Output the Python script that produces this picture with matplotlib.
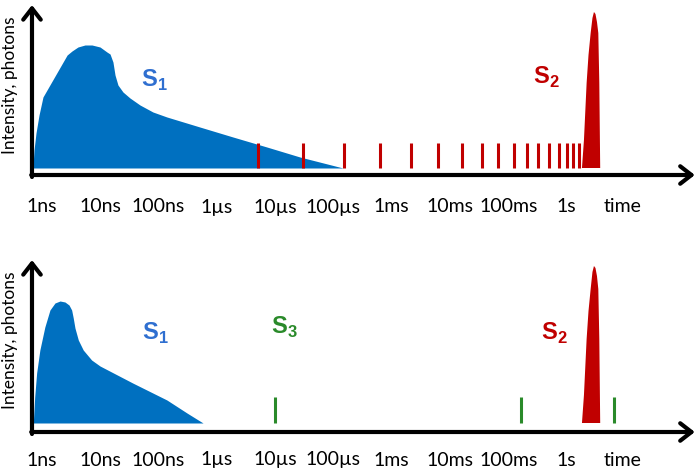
import matplotlib
matplotlib.use('Agg')
import matplotlib.pyplot as plt

plt.rcParams['font.family'] = ['Lato', 'DejaVu Sans']
plt.rcParams['mathtext.fontset'] = 'custom'
plt.rcParams['mathtext.bf'] = 'Liberation Sans:bold'
plt.rcParams['mathtext.rm'] = 'Liberation Sans'

BLUE = '#0070C0'
BLUE_TXT = '#2F6FD0'
RED = '#C00000'
GREEN = '#2A8A2A'

# time axis labels (seconds)
tick_times = [1e-9, 1e-8, 1e-7, 1e-6, 1e-5, 1e-4, 1e-3, 1e-2, 1e-1, 1.0]
tick_labels = ['1ns', '10ns', '100ns', '1µs', '10µs', '100µs', '1ms', '10ms', '100ms', '1s']

# top panel: S1 fluorescence decay (time in s, intensity in arb. units)
s1_top_t = [7.0e-10, 7.3e-10, 7.9e-10, 8.9e-10, 1.04e-9, 2.7e-9, 3.27e-9, 4.14e-9, 5.47e-9,
            7.2e-9, 9.9e-9, 1.3e-8, 1.47e-8, 1.65e-8, 1.79e-8, 2.01e-8, 2.45e-8, 3.23e-8,
            4.8e-8, 8.0e-8, 1.39e-7, 5.1e-7, 1.89e-6, 7.2e-6, 2.66e-5, 1.46e-4]
s1_top_i = [7, 25, 42, 60, 78, 120, 124, 128, 130,
            130, 128, 123, 121, 113, 100, 90, 83, 77,
            70, 63, 58, 48, 38, 28, 18, 7]

# top panel: red pulses
pulse_top_t = [5.07e-6, 3.0e-5, 1.5e-4, 6.3e-4, 2.1e-3, 6.2e-3, 0.016, 0.035, 0.066,
               0.125, 0.21, 0.32, 0.50, 0.74, 1.0, 1.28, 1.63]

# S2 peak (shared time samples)
s2_t = [1.83, 1.98, 2.20, 2.37, 2.58, 2.77, 2.94, 3.12, 3.31, 3.49, 3.63, 3.70, 3.76]
s2_top_i = [7, 35, 92, 120, 142, 157, 163, 161, 153, 142, 92, 45, 7]

# bottom panel: S1 decay
s1_bot_t = [7.1e-10, 7.5e-10, 8.1e-10, 9.2e-10, 1.12e-9, 1.37e-9, 1.67e-9, 2.04e-9, 2.48e-9,
            2.91e-9, 3.23e-9, 3.44e-9, 3.68e-9, 4.2e-9, 5.1e-9, 7.1e-9, 9.9e-9, 3.6e-8,
            1.39e-7, 3.07e-7, 5.8e-7]
s1_bot_i = [9, 35, 59, 82, 105, 122, 129, 131, 130,
            127, 122, 114, 104, 92, 82, 72, 66, 49,
            32, 19, 9]

# bottom panel: green S3 pulses and S2 peak
s3_t = [1.0e-5, 0.164, 6.5]
s2_bot_i = [9, 37, 93, 121, 143, 160, 166, 164, 156, 143, 93, 47, 9]

fig = plt.figure(figsize=(6.99, 4.71), dpi=100)
ax_top = fig.add_axes([0, 231 / 471, 1, 240 / 471])
ax_bot = fig.add_axes([0, 0, 1, 231 / 471])

t_min, t_max = 10 ** -9.72, 10 ** 2.27
y_axis_t = 6.74e-10
x_end_t = 158.0


def setup(ax, ylim, ytop, label_y, tick_y, axis_lo):
    ax.set_xscale('log')
    ax.set_xlim(t_min, t_max)
    ax.set_ylim(*ylim)
    ax.axis('off')
    arrow = dict(arrowstyle='->,head_length=0.45,head_width=0.35', lw=3,
                 color='black', mutation_scale=18, shrinkA=0, shrinkB=0)
    ax.annotate('', xy=(x_end_t, 0), xytext=(y_axis_t * 0.97, 0), arrowprops=arrow)
    ax.annotate('', xy=(y_axis_t, ytop), xytext=(y_axis_t, axis_lo), arrowprops=arrow)
    for t, lab in zip(tick_times, tick_labels):
        ax.text(t, tick_y, lab, ha='center', va='center', fontsize=14)
    ax.text(9.2, tick_y, 'time', ha='center', va='center', fontsize=14)
    ax.text(2.82e-10, label_y, 'Intensity, photons', rotation=90,
            ha='center', va='center', fontsize=12.5)


setup(ax_top, (-65, 175), 170, 90, -32, -2)
setup(ax_bot, (-39, 192), 172, 92, -28, -2)

# top panel
ax_top.fill_between(s1_top_t, 7, s1_top_i, color=BLUE, lw=0)
ax_top.vlines(pulse_top_t, 7, 32, color=RED, lw=2.2)
ax_top.fill(s2_t, s2_top_i, color=RED, lw=0)
ax_top.text(8.3e-8, 95, r'$\mathbf{S}_\mathbf{1}$', color=BLUE_TXT, fontsize=17,
            ha='center', va='center')
ax_top.text(0.44, 98, r'$\mathbf{S}_\mathbf{2}$', color=RED, fontsize=17,
            ha='center', va='center')

# bottom panel
ax_bot.fill_between(s1_bot_t, 9, s1_bot_i, color=BLUE, lw=0)
ax_bot.vlines(s3_t, 9, 35, color=GREEN, lw=2.2)
ax_bot.fill(s2_t, s2_bot_i, color=RED, lw=0)
ax_bot.text(8.7e-8, 99, r'$\mathbf{S}_\mathbf{1}$', color=BLUE_TXT, fontsize=17,
            ha='center', va='center')
ax_bot.text(1.42e-5, 105, r'$\mathbf{S}_\mathbf{3}$', color=GREEN, fontsize=17,
            ha='center', va='center')
ax_bot.text(0.61, 99, r'$\mathbf{S}_\mathbf{2}$', color=RED, fontsize=17,
            ha='center', va='center')

fig.savefig('out.png', dpi=100)
